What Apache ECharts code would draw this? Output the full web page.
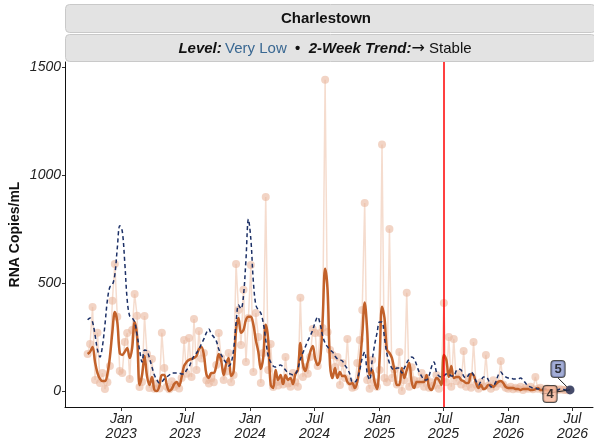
<!DOCTYPE html>
<html><head><meta charset="utf-8">
<script src="https://cdn.jsdelivr.net/npm/echarts@6/dist/echarts.min.js"></script>
<style>html,body{margin:0;padding:0;background:#fff}#c{width:594px;height:440px}</style>
</head><body><div id="c"></div>
<script>
// weekly sampling start (year, monthIndex, day) and step
const startYMD = [2022, 8, 28];
const stepDays = 7;

// raw measurements (RNA copies/mL)
const rawValues = [171,218,389,51,269,37,83,9,40,116,
417,588,343,93,83,227,268,56,282,449,
348,19,42,347,171,14,148,10,35,12,
269,106,20,8,45,18,30,12,60,236,
80,245,65,333,97,278,150,176,50,35,
60,40,120,268,153,51,90,176,40,74,
588,375,213,468,134,338,583,88,361,250,
37,176,898,97,218,19,40,25,45,30,
157,35,20,83,40,20,431,65,110,80,
157,287,268,116,268,292,1440,273,190,167,
111,157,28,130,60,241,42,15,20,130,
236,375,870,51,10,144,40,20,97,1140,
60,40,750,60,100,30,181,0,50,454,
20,110,50,30,45,83,20,60,15,40,
25,74,10,50,407,40,250,20,241,45,
80,30,185,20,60,15,227,30,10,40,
20,167,25,10,50,20,35,139,30,15,
10,20,8,15,10,20,5,15,10,20,
8,65,10,15,5,10,12,5,8,10,
5,8,6,5,4,5];

// smoothed site curve (orange)
const smoothValues = [171,181,204,134,83,56,46,46,79,157,
273,366,319,176,167,181,199,153,199,319,
250,28,74,162,69,28,65,5,0,23,
74,74,28,0,9,32,42,23,65,116,
134,144,148,153,162,194,204,167,79,60,
83,83,116,171,139,74,125,153,69,88,
282,338,269,282,329,343,343,306,236,181,
102,157,306,236,28,14,97,51,74,32,
74,51,60,32,79,97,222,125,93,134,
181,208,148,120,144,329,565,468,120,60,
106,60,88,69,69,42,32,37,14,42,
120,259,410,282,74,97,42,9,144,390,
338,190,176,153,97,28,28,106,60,97,
130,42,14,42,42,42,42,74,19,5,
28,60,51,28,167,144,65,116,60,65,
65,51,46,37,37,79,74,37,14,28,
9,14,28,28,19,32,42,46,37,19,
14,14,14,9,9,5,9,9,9,5,
5,9,14,5,5,5,4,4,4,null,
null,null,null,null,null,null];

// regional trend curve (navy dashed)
const trendValues = [330,338,319,259,190,157,208,306,421,481,
491,537,662,765,740,597,421,347,338,319,
259,190,134,190,185,153,111,74,51,37,
42,56,65,74,83,83,83,83,79,79,
97,111,139,162,176,194,218,241,269,287,
264,250,232,194,167,148,130,116,130,190,
315,398,380,440,607,795,700,505,398,375,
361,315,236,162,134,116,111,116,120,111,
97,83,79,74,79,102,148,176,204,232,
255,282,319,343,310,255,222,204,190,181,
162,148,144,139,120,102,79,42,42,56,
97,153,181,83,51,139,213,269,319,319,
245,171,130,106,97,106,106,83,106,130,
148,157,148,120,88,69,51,51,69,111,
134,88,69,65,69,79,79,69,69,93,
102,97,69,60,74,88,74,46,28,46,
65,65,51,19,23,42,74,88,74,65,
60,60,56,56,56,60,51,37,23,19,
14,14,9,9,9,9,9,5,5,5,
5,9,9,5,5,5];

const xTickDates = ['2023-01-01','2023-07-01','2024-01-01','2024-07-01','2025-01-01','2025-07-01','2026-01-01','2026-07-01'];
const yTicks = [0, 500, 1000, 1500];
const refLineDate = '2025-07-01';
const xRange = ['2022-07-26', '2026-08-28'];
const yRange = [-74, 1522];
const endLabelTrend = '5';
const endLabelSmooth = '4';
const MONTHS = ['Jan','Feb','Mar','Apr','May','Jun','Jul','Aug','Sep','Oct','Nov','Dec'];

function ts(s){ const p = s.split('-').map(Number); return new Date(p[0], p[1]-1, p[2]).getTime(); }
const dates = rawValues.map((_, i) => new Date(startYMD[0], startYMD[1], startYMD[2] + stepDays * i).getTime());
const pair = arr => arr.map((v, i) => [dates[i], v]);
const lastIdx = trendValues.length - 1;
const lastPoint = [dates[lastIdx], trendValues[lastIdx]];

const FONT = '"Liberation Sans", Arial, Helvetica, sans-serif';
const chart = echarts.init(document.getElementById('c'), null, {renderer: 'canvas'});
chart.setOption({
  animation: false,
  textStyle: {fontFamily: FONT},
  grid: {left: 65, right: 1, top: 62, bottom: 33, containLabel: false, outerBoundsMode: 'none'},
  graphic: [
    {type: 'rect', shape: {x: 65.5, y: 4.5, width: 530, height: 28, r: 4}, style: {fill: '#e3e3e3', stroke: '#c9c9c9', lineWidth: 1}},
    {type: 'text', x: 326, y: 18.5, style: {text: 'Charlestown', font: 'bold 15px ' + FONT, fill: '#111', align: 'center', verticalAlign: 'middle'}},
    {type: 'rect', shape: {x: 65.5, y: 34.5, width: 530, height: 27, r: 4}, style: {fill: '#e3e3e3', stroke: '#c9c9c9', lineWidth: 1}},
    {type: 'text', x: 325, y: 48.5, style: {
      text: '{a|Level:} {b|Very Low}{c|  •  }{a|2-Week Trend:}{e|→}{d| Stable}',
      align: 'center', verticalAlign: 'middle',
      rich: {
        a: {fontFamily: FONT, fontSize: 15, fontWeight: 'bold', fontStyle: 'italic', fill: '#111'},
        b: {fontFamily: FONT, fontSize: 15, fill: '#3a6892'},
        c: {fontFamily: FONT, fontSize: 15, fontWeight: 'bold', fill: '#111'},
        e: {fontFamily: '"DejaVu Sans", sans-serif', fontSize: 16, fill: '#111'},
        d: {fontFamily: FONT, fontSize: 15, fill: '#111'}
      }
    }}
  ],
  xAxis: {
    type: 'value',
    min: ts(xRange[0]), max: ts(xRange[1]),
    splitLine: {show: false},
    axisLine: {show: true, onZero: false, lineStyle: {color: '#111', width: 1}},
    axisTick: {show: true, length: 4, lineStyle: {color: '#333'}, customValues: xTickDates.map(ts)},
    axisLabel: {
      customValues: xTickDates.map(ts),
      fontStyle: 'italic', fontSize: 14, color: '#222', lineHeight: 15, margin: 5,
      fontFamily: FONT,
      formatter: v => { const d = new Date(v); return MONTHS[d.getMonth()] + '\n' + d.getFullYear(); }
    }
  },
  yAxis: {
    type: 'value',
    min: yRange[0], max: yRange[1],
    name: 'RNA Copies/mL', nameLocation: 'middle', nameGap: 43, nameRotate: 90, nameMoveOverlap: false,
    nameTextStyle: {fontWeight: 'bold', fontSize: 14, color: '#111', fontFamily: FONT},
    splitLine: {show: false},
    axisLine: {show: true, onZero: false, lineStyle: {color: '#111', width: 1}},
    axisTick: {show: true, length: 3, lineStyle: {color: '#333'}, customValues: yTicks},
    axisLabel: {customValues: yTicks, fontStyle: 'italic', fontSize: 14, color: '#222', margin: 4, fontFamily: FONT,
      formatter: v => String(v)}
  },
  series: [
    {
      type: 'line', data: pair(rawValues), symbol: 'circle', symbolSize: 8, showSymbol: true,
      itemStyle: {color: 'rgba(234,184,158,0.6)'},
      lineStyle: {color: 'rgba(238,196,174,0.6)', width: 1.5},
      z: 1,
      markLine: {
        silent: true, symbol: ['none', 'none'], label: {show: false},
        lineStyle: {color: '#ff0000', width: 1.5, type: 'solid'},
        data: [{xAxis: ts(refLineDate)}]
      }
    },
    {
      type: 'line', data: pair(smoothValues), symbol: 'none', smooth: 0.35,
      lineStyle: {color: '#c2612a', width: 2.5}, z: 3
    },
    {
      type: 'line', data: pair(trendValues), symbol: 'none', smooth: 0.35,
      lineStyle: {color: '#1b2f66', width: 1.5, type: [4, 3]}, z: 4
    },
    {
      type: 'scatter', data: [lastPoint], symbol: 'circle', symbolSize: 9,
      itemStyle: {color: '#1c2a55'}, z: 10,
      label: {show: true, position: 'inside', formatter: endLabelTrend, backgroundColor: '#8c99cc',
        borderColor: '#222', borderWidth: 1, borderRadius: 3, padding: [2, 3, 1, 3],
        color: '#111', fontWeight: 'bold', fontSize: 13, fontFamily: FONT},
      labelLayout: {dx: -12, dy: -21},
      labelLine: {show: true, lineStyle: {color: '#222', width: 1}}
    },
    {
      type: 'scatter', data: [lastPoint], symbol: 'circle', symbolSize: 0,
      itemStyle: {color: 'rgba(0,0,0,0)'}, z: 9,
      label: {show: true, position: 'inside', formatter: endLabelSmooth, backgroundColor: '#f6b89b',
        borderColor: '#222', borderWidth: 1, borderRadius: 3, padding: [2, 3, 1, 3],
        color: '#111', fontWeight: 'bold', fontSize: 13, fontFamily: FONT},
      labelLayout: {dx: -20, dy: 4},
      labelLine: {show: true, lineStyle: {color: '#222', width: 1}}
    }
  ]
});
</script></body></html>
